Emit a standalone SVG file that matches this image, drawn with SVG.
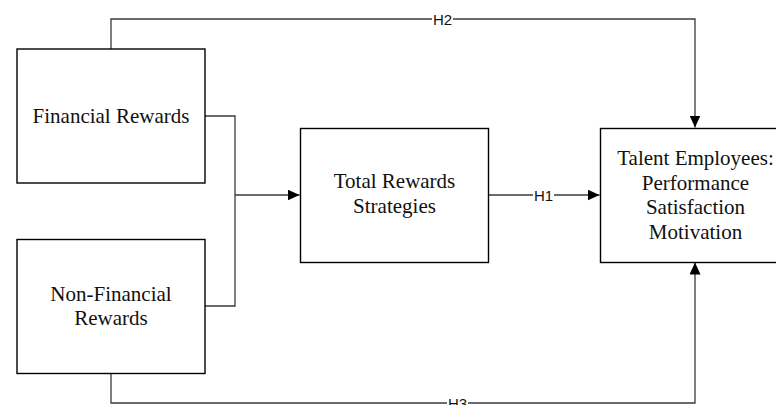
<svg xmlns="http://www.w3.org/2000/svg" width="776" height="405" viewBox="0 0 776 405">
  <style>
    .box { fill: #ffffff; stroke: #000000; stroke-width: 1.4; }
    .node-text { font-family: "Liberation Serif", "DejaVu Serif", serif; font-size: 21px; fill: #111111; text-anchor: middle; }
    .wire { fill: none; stroke: #3a3a3a; stroke-width: 1.3; }
    .tag { font-family: "Liberation Sans", Arial, sans-serif; font-size: 15px; fill: #111111; text-anchor: middle; dominant-baseline: central; }
    .tag-bg { fill: #ffffff; }
  </style>
  <defs>
    <marker id="arrow" viewBox="0 0 12 11" refX="12" refY="5.5" markerWidth="12" markerHeight="11" markerUnits="userSpaceOnUse" orient="auto">
      <path d="M0,0 L12,5.5 L0,11 Z" fill="#000000"/>
    </marker>
  </defs>
  <rect width="776" height="405" fill="#ffffff"/>

  <g id="connectors">
    <!-- Financial Rewards and Non-Financial Rewards merge into Total Rewards Strategies -->
    <path class="wire" d="M205,116 H235 V306 H205"/>
    <path class="wire" d="M235,195 H299.5" marker-end="url(#arrow)"/>
    <!-- H1 -->
    <path class="wire" d="M489,195 H599.5" marker-end="url(#arrow)"/>
    <rect class="tag-bg" x="533" y="187" width="21" height="16"/>
    <text class="tag" x="543.5" y="195.5">H1</text>
    <!-- H2 -->
    <path class="wire" d="M111,49 V19 H695 V127.5" marker-end="url(#arrow)"/>
    <rect class="tag-bg" x="432" y="11" width="21" height="16"/>
    <text class="tag" x="442.5" y="19.5">H2</text>
    <!-- H3 -->
    <path class="wire" d="M111,374 V403 H695 V262.5" marker-end="url(#arrow)"/>
    <rect class="tag-bg" x="447" y="396" width="21" height="12"/>
    <text class="tag" x="457.5" y="403.5">H3</text>
  </g>

  <g id="financial-rewards">
    <rect class="box" x="17" y="49" width="188" height="134"/>
    <text class="node-text" x="111" y="123">Financial Rewards</text>
  </g>

  <g id="non-financial-rewards">
    <rect class="box" x="17" y="239.5" width="188" height="134"/>
    <text class="node-text" x="111" y="300.5">Non-Financial</text>
    <text class="node-text" x="111" y="325">Rewards</text>
  </g>

  <g id="total-rewards-strategies">
    <rect class="box" x="300.5" y="128.5" width="188" height="134"/>
    <text class="node-text" x="394.5" y="188">Total Rewards</text>
    <text class="node-text" x="394.5" y="212.5">Strategies</text>
  </g>

  <g id="talent-employees">
    <rect class="box" x="600.5" y="128.5" width="190" height="134"/>
    <text class="node-text" x="695.5" y="165">Talent Employees:</text>
    <text class="node-text" x="695.5" y="189.5">Performance</text>
    <text class="node-text" x="695.5" y="214">Satisfaction</text>
    <text class="node-text" x="695.5" y="238.5">Motivation</text>
  </g>
</svg>
